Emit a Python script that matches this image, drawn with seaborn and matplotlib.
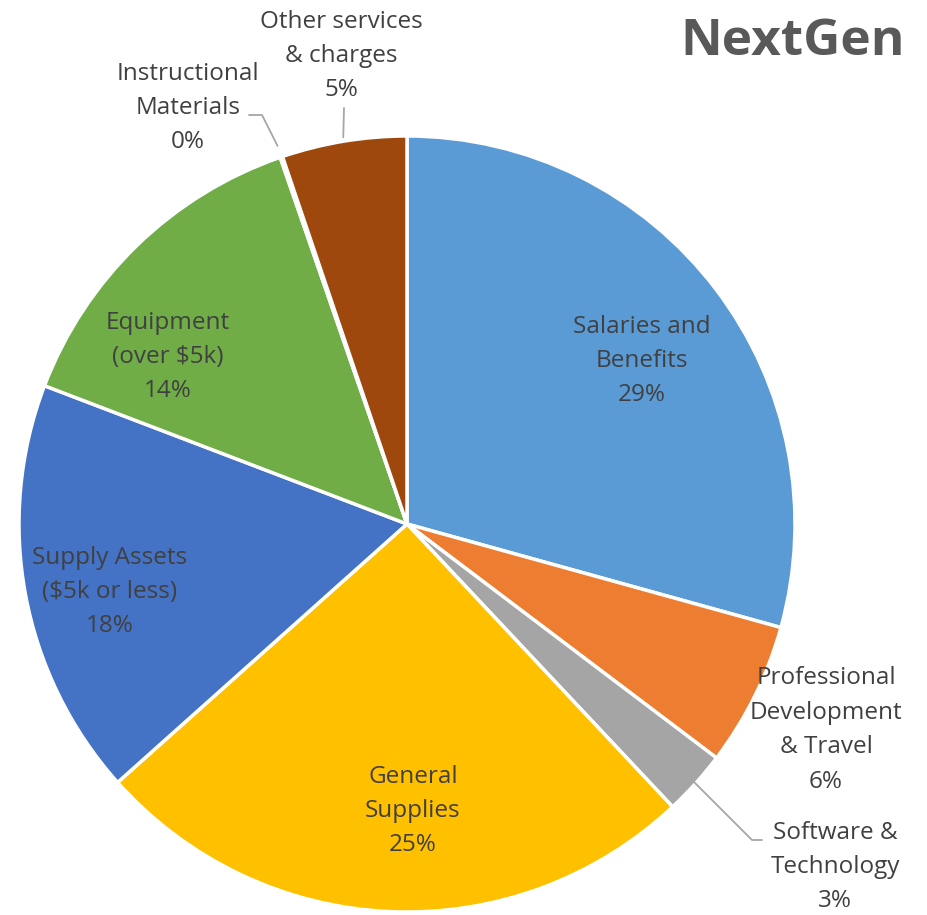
import numpy as np
import matplotlib
matplotlib.use("Agg")
import matplotlib.pyplot as plt
import seaborn as sns

categories = ["Salaries and\nBenefits", "Professional\nDevelopment\n& Travel",
              "Software &\nTechnology", "General\nSupplies",
              "Supply Assets\n($5k or less)", "Equipment\n(over $5k)",
              "Instructional\nMaterials", "Other services\n& charges"]
values = [29.3, 6.0, 2.7, 25.4, 17.4, 13.9, 0.1, 5.2]
pct_labels = ["29%", "6%", "3%", "25%", "18%", "14%", "0%", "5%"]
colors = ["#5B9BD5", "#ED7D31", "#A5A5A5", "#FFC000", "#4472C4", "#70AD47", "#255E91", "#9E480E"]
title = "NextGen"

sns.set_theme(style="white")
plt.rcParams['font.family'] = ['Open Sans', 'DejaVu Sans']

W, H = 927, 915
fig = plt.figure(figsize=(W / 100, H / 100), dpi=100)
cx, cy, R = 407, 524, 388
ax = fig.add_axes([(cx - R) / W, (H - cy - R) / H, 2 * R / W, 2 * R / H])
wedges, _ = ax.pie(values, colors=colors, startangle=90, counterclock=False,
                   radius=1.0, wedgeprops=dict(edgecolor="white", linewidth=2.5))
ax.set_xlim(-1, 1)
ax.set_ylim(-1, 1)
ax.set_aspect("equal")
ax.axis("off")

def px2d(x, y):
    return ((x - cx) / R, (cy - y) / R)

label_pos = [(642, 361), (826, 730), (835, 867), (413, 811),
             (110, 592), (168, 357), (188, 108), (341, 56)]
tc = "#404040"
for cat, pct, (lx, ly) in zip(categories, pct_labels, label_pos):
    x, y = px2d(lx, ly)
    ax.text(x, y, cat + "\n" + pct, ha="center", va="center", fontsize=17.5,
            color=tc, linespacing=1.58, clip_on=False)

def edge_point(i):
    w = wedges[i]
    ang = np.deg2rad((w.theta1 + w.theta2) / 2)
    return np.cos(ang), np.sin(ang)

lc = "#A6A6A6"
# Software leader
ex, ey = edge_point(2)
p1 = px2d(752, 840); p2 = px2d(762, 840)
ax.plot([ex * 0.99, p1[0], p2[0]], [ey * 0.99, p1[1], p2[1]], color=lc, lw=1.3, clip_on=False)
# Instructional leader
ex, ey = edge_point(6)
p1 = px2d(262, 115); p2 = px2d(249, 115)
ax.plot([ex * 1.03, p1[0], p2[0]], [ey * 1.03, p1[1], p2[1]], color=lc, lw=1.3, clip_on=False)
# Other leader
ex, ey = edge_point(7)
p1 = px2d(344, 108)
ax.plot([ex * 1.01, p1[0]], [ey * 1.01, p1[1]], color=lc, lw=1.3, clip_on=False)

fig.text(905 / W, 1 - 42 / H, title, ha="right", va="center", fontsize=37,
         fontweight="bold", color="#595959")

fig.savefig("out.png", dpi=100, facecolor="white")
